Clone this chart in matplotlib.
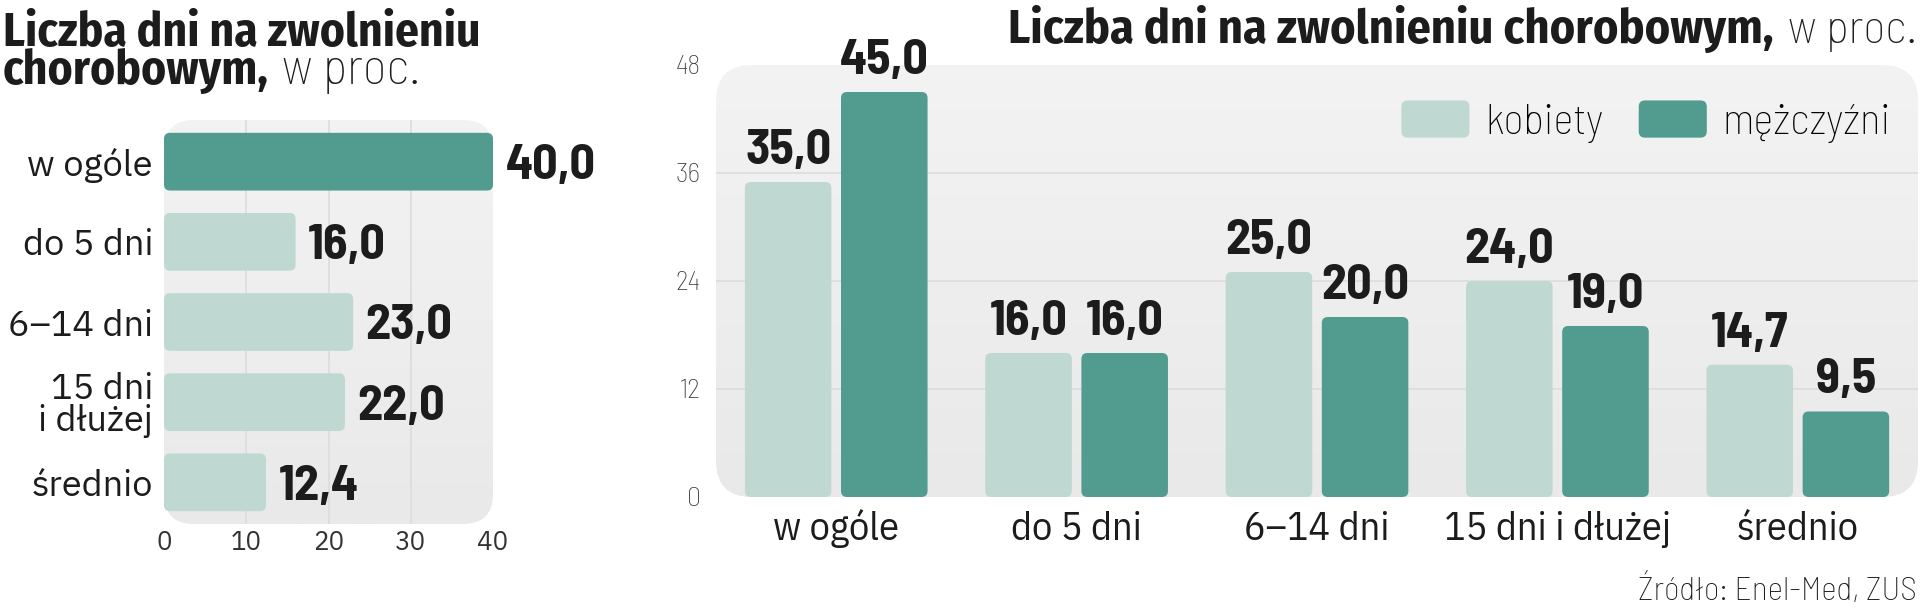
import numpy as np
import matplotlib
matplotlib.use('Agg')
import matplotlib.pyplot as plt
from matplotlib import font_manager
from matplotlib.colors import LinearSegmentedColormap
from matplotlib.patches import FancyBboxPatch, Patch
from matplotlib.legend_handler import HandlerPatch

# data
left_labels = ['w ogóle', 'do 5 dni', '6–14 dni', '15 dni\ni dłużej', 'średnio']
left_values = [40.0, 16.0, 23.0, 22.0, 12.4]
left_ticks = [0, 10, 20, 30, 40]

groups = ['w ogóle', 'do 5 dni', '6–14 dni', '15 dni i dłużej', 'średnio']
women = [35.0, 16.0, 25.0, 24.0, 14.7]
men = [45.0, 16.0, 20.0, 19.0, 9.5]
right_ticks = [0, 12, 24, 36, 48]

LIGHT = '#bfd9d2'
DARK = '#519b8f'
PANEL = LinearSegmentedColormap.from_list('panel', ['#f3f3f3', '#e9e9e9'])
GRID = '#dcdcdc'
INK = '#1c1c1c'

names = {f.name for f in font_manager.fontManager.ttflist}


def pick(*cands):
    for c in cands:
        if c in names:
            return c
    return 'DejaVu Sans'


TITLE = pick('Fira Sans Condensed', 'Roboto Condensed')
NUM = pick('Barlow Semi Condensed', 'Roboto Condensed')
THIN = pick('Barlow Semi Condensed', 'Roboto Condensed')
CATR = pick('IBM Plex Sans Condensed', 'Roboto Condensed')
CATL = pick('IBM Plex Sans', 'Open Sans')

W, H = 1920, 609
fig = plt.figure(figsize=(W / 100, H / 100), dpi=100)
r = fig.canvas.get_renderer()


def px_axes(x0, y0, x1, y1):
    return fig.add_axes([x0 / W, 1 - y1 / H, (x1 - x0) / W, (y1 - y0) / H])


def panel(ax, rad):
    # rounded grey box behind the plot area, light at the top and darker at the bottom
    bb = ax.get_position()
    clip = FancyBboxPatch((bb.x0 * W / 100, bb.y0 * H / 100), bb.width * W / 100, bb.height * H / 100,
                          boxstyle=f'round,pad=0,rounding_size={rad / 100}',
                          transform=fig.dpi_scale_trans)
    bg = fig.add_axes(bb, zorder=-1)
    bg.axis('off')
    im = bg.imshow(np.linspace(0, 1, 256).reshape(-1, 1), cmap=PANEL, aspect='auto',
                   extent=(0, 1, 0, 1))
    im.set_clip_path(clip)


def round_bars(ax, bars, rpx):
    bb = ax.get_position()
    x0, x1 = ax.get_xlim()
    y0, y1 = ax.get_ylim()
    pxx = bb.width * W / abs(x1 - x0)
    pxy = bb.height * H / abs(y1 - y0)
    for b in bars:
        fb = FancyBboxPatch((b.get_x(), b.get_y()), b.get_width(), b.get_height(),
                            boxstyle=f'round,pad=0,rounding_size={rpx / pxx}',
                            mutation_aspect=pxx / pxy, fc=b.get_facecolor(), ec='none', zorder=2)
        ax.add_patch(fb)
        b.set_visible(False)


def fmt(v):
    return f'{v:.1f}'.replace('.', ',')


def clean(ax):
    ax.set_facecolor('none')
    for s in ax.spines.values():
        s.set_visible(False)
    ax.tick_params(length=0)


# left panel
ax1 = px_axes(164, 120, 493, 524)
clean(ax1)
ax1.set_xlim(0, 40)
ax1.set_ylim(4.52, -0.52)
panel(ax1, 30)
for t in left_ticks[1:-1]:
    ax1.axvline(t, color=GRID, lw=1.2, zorder=1)
bars = ax1.barh(range(len(left_values)), left_values, height=0.72,
                color=[DARK] + [LIGHT] * (len(left_values) - 1))
round_bars(ax1, bars, 6)
for i, v in enumerate(left_values):
    ax1.annotate(fmt(v), (v, i), xytext=(9, 0), textcoords='offset points', ha='left',
                 va='center_baseline', fontsize=36, weight='bold', family=NUM, color=INK,
                 annotation_clip=False)
ax1.set_yticks(range(len(left_labels)), left_labels, fontsize=26, family=CATL, color=INK,
               linespacing=0.95, va='center_baseline')
ax1.set_xticks(left_ticks, [str(t) for t in left_ticks], fontsize=18.7, family=CATL,
               weight='light', color='#333333', va='baseline')
ax1.tick_params(axis='y', pad=8)
ax1.tick_params(axis='x', pad=19)

# right panel
ax2 = px_axes(716, 65, 1918, 497)
clean(ax2)
ax2.set_xlim(-0.5, 4.5)
ax2.set_ylim(0, 48)
panel(ax2, 36)
for t in right_ticks[1:-1]:
    ax2.axhline(t, color=GRID, lw=1.2, zorder=1)
x = np.arange(len(groups))
b1 = ax2.bar(x - 0.2, women, 0.36, color=LIGHT)
b2 = ax2.bar(x + 0.2, men, 0.36, color=DARK)
round_bars(ax2, list(b1) + list(b2), 6)
for xs, vals in ((x - 0.2, women), (x + 0.2, men)):
    for xi, v in zip(xs, vals):
        ax2.annotate(fmt(v), (xi, v), xytext=(0, 13), textcoords='offset points', ha='center',
                     va='baseline', fontsize=36, weight='bold', family=NUM, color=INK)
ax2.set_xticks(x, groups, fontsize=29, family=CATR, color=INK, va='baseline')
ax2.set_yticks(right_ticks, [str(t) for t in right_ticks], fontsize=20, family=THIN,
               weight='light', color='#333333', va='center_baseline')
ax2.tick_params(axis='x', pad=31)
ax2.tick_params(axis='y', pad=11)


def rounded_handle(legend, orig_handle, xdescent, ydescent, width, height, fontsize):
    return FancyBboxPatch((-xdescent, -ydescent), width, height,
                          boxstyle='round,pad=0,rounding_size=4')


LEG = 31
handles = [Patch(color=LIGHT, label='kobiety'), Patch(color=DARK, label='mężczyźni')]
ax2.legend(handles=handles, ncol=2, frameon=False, loc='center right',
           bbox_to_anchor=((1891 - 716) / 1202, 1 - (122 - 65) / 432),
           borderpad=0, borderaxespad=0, handlelength=48 / LEG, handleheight=28 / LEG,
           handletextpad=12 / LEG, columnspacing=26 / LEG,
           prop={'family': THIN, 'weight': 'light', 'size': LEG},
           handler_map={Patch: HandlerPatch(patch_func=rounded_handle)})

# titles
fig.text(3 / W, 1 - 46 / H, 'Liczba dni na zwolnieniu', fontsize=34, weight='bold',
         family=TITLE, color=INK, va='baseline')
tb = fig.text(3 / W, 1 - 84 / H, 'chorobowym,', fontsize=34, weight='bold',
              family=TITLE, color=INK, va='baseline')
x_end = tb.get_window_extent(r).x1
fig.text((x_end + 13) / W, 1 - 84 / H, 'w proc.', fontsize=36.5, weight='light',
         family=THIN, color=INK, va='baseline')

tl = fig.text(1917 / W, 1 - 43 / H, 'w proc.', fontsize=34, weight='light',
              family=THIN, color=INK, va='baseline', ha='right')
x_start = tl.get_window_extent(r).x0
fig.text((x_start - 15) / W, 1 - 43 / H, 'Liczba dni na zwolnieniu chorobowym,', fontsize=34.6,
         weight='bold', family=TITLE, color=INK, va='baseline', ha='right')

fig.text(1917 / W, 9 / H, 'Źródło: Enel-Med, ZUS', fontsize=24, weight='light',
         family=THIN, color=INK, ha='right', va='baseline')

fig.savefig('out.png', dpi=100)
